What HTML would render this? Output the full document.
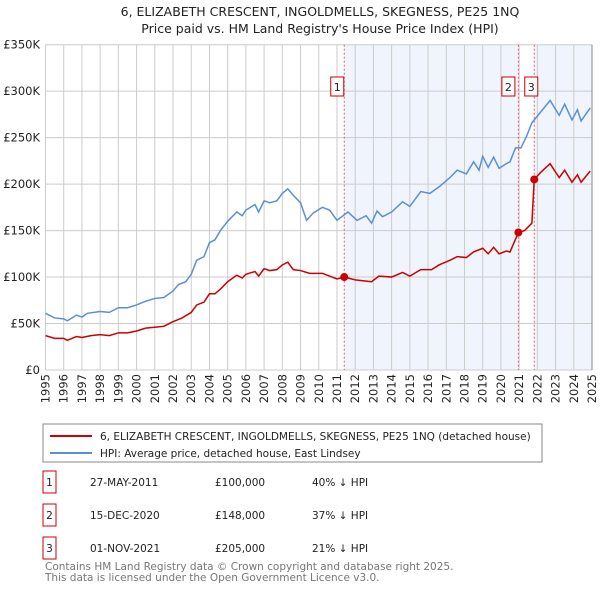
<!DOCTYPE html>
<html><head><meta charset="utf-8"><style>
body{margin:0;background:#fff;font-family:"DejaVu Sans","Liberation Sans",sans-serif;}
#wrap{position:relative;width:600px;height:590px;overflow:hidden}
</style></head><body><div id="wrap">
<svg id="chart" width="600" height="590" xmlns="http://www.w3.org/2000/svg" font-family="DejaVu Sans, Liberation Sans, sans-serif">
<text x="320" y="16" text-anchor="middle" font-size="12.5" fill="#222">6, ELIZABETH CRESCENT, INGOLDMELLS, SKEGNESS, PE25 1NQ</text>
<text x="320" y="33" text-anchor="middle" font-size="12.5" fill="#222">Price paid vs. HM Land Registry's House Price Index (HPI)</text>
<g id="plot"></g>
<rect x="43" y="424" width="499" height="38" fill="#fff" stroke="#888"/>
<line x1="50" y1="436" x2="92" y2="436" stroke="#cc0000" stroke-width="2"/>
<text x="100" y="440" font-size="10.5" fill="#222">6, ELIZABETH CRESCENT, INGOLDMELLS, SKEGNESS, PE25 1NQ (detached house)</text>
<line x1="50" y1="453" x2="92" y2="453" stroke="#5b8fd6" stroke-width="2"/>
<text x="100" y="457" font-size="10.5" fill="#222">HPI: Average price, detached house, East Lindsey</text>
<g id="table" font-size="10.5" fill="#222"></g>
<text x="45" y="570" font-size="10.5" fill="#777">Contains HM Land Registry data © Crown copyright and database right 2025.</text>
<text x="45" y="581" font-size="10.5" fill="#777">This data is licensed under the Open Government Licence v3.0.</text>
</svg></div>
<script>
const hpiYears=[1995,1995.5,1996,1996.2,1996.7,1997,1997.3,1998,1998.5,1999,1999.5,2000,2000.5,2001,2001.5,2002,2002.3,2002.7,2003,2003.3,2003.7,2004,2004.3,2004.6,2005,2005.5,2005.8,2006,2006.5,2006.7,2007,2007.3,2007.7,2008,2008.3,2008.6,2009,2009.33,2009.7,2010.2,2010.6,2011,2011.6,2012.1,2012.6,2012.9,2013.2,2013.5,2014,2014.6,2015,2015.6,2016.1,2016.6,2017.2,2017.6,2018.1,2018.5,2018.8,2019,2019.3,2019.6,2019.9,2020.3,2020.5,2020.8,2021.1,2021.4,2021.7,2022.2,2022.7,2023.2,2023.5,2023.9,2024.2,2024.4,2024.9];
const hpiValues=[61,56,55,53,59,57,61,63,62,67,67,70,74,77,78,85,92,95,103,118,122,137,140,150,160,170,166,172,178,170,182,180,182,190,195,188,180,161,169,175,172,161,170,161,166,158,171,165,170,181,176,192,190,197,207,215,211,224,215,230,218,229,217,222,224,239,239,251,266,278,290,274,286,269,280,268,282];
const ppYears=[1995,1995.5,1996,1996.2,1996.7,1997,1997.5,1998,1998.5,1999,1999.5,2000,2000.5,2001,2001.5,2002,2002.5,2003,2003.3,2003.7,2004,2004.3,2004.6,2005,2005.5,2005.8,2006,2006.5,2006.7,2007,2007.3,2007.7,2008,2008.3,2008.6,2009,2009.5,2010.2,2011,2011.4,2012,2012.9,2013.3,2014,2014.6,2015,2015.6,2016.2,2016.6,2017.2,2017.6,2018.1,2018.5,2019,2019.3,2019.6,2019.9,2020.3,2020.5,2020.96,2021.3,2021.7,2021.83,2022.2,2022.7,2023.2,2023.5,2023.9,2024.2,2024.4,2024.9];
const ppValues=[37,34,34,32,36,35,37,38,37,40,40,42,45,46,47,52,56,62,70,73,82,82,87,95,102,99,103,106,101,109,107,108,113,116,108,107,104,104,98,100,97,95,101,100,105,101,108,108,113,118,122,121,127,131,125,132,125,128,127,148,150,158,205,213,222,207,215,202,210,202,214];
const saleLabels=["1","2","3"];
const saleYears=[2011.4,2020.96,2021.83];
const saleValues=[100,148,205];
const saleDates=["27-MAY-2011","15-DEC-2020","01-NOV-2021"];
const salePrices=["£100,000","£148,000","£205,000"];
const saleDiffs=["40% ↓ HPI","37% ↓ HPI","21% ↓ HPI"];
const yTicks=[0,50,100,150,200,250,300,350];
const yTickLabels=["£0","£50K","£100K","£150K","£200K","£250K","£300K","£350K"];
const xTicks=[1995,1996,1997,1998,1999,2000,2001,2002,2003,2004,2005,2006,2007,2008,2009,2010,2011,2012,2013,2014,2015,2016,2017,2018,2019,2020,2021,2022,2023,2024,2025];

const X0=45.5,X1=592,Y0=370,Y1=44.7;
const xs=y=>X0+(y-1995)/30*(X1-X0);
const ys=v=>Y0-v/350*(Y0-Y1);
const NS="http://www.w3.org/2000/svg";
const plot=document.getElementById('plot');
function mk(tag,attrs,parent){const e=document.createElementNS(NS,tag);for(const k in attrs)e.setAttribute(k,attrs[k]);(parent||plot).appendChild(e);return e;}
let s=mk('rect',{x:xs(saleYears[0]),y:Y1,width:xs(saleYears[1])-xs(saleYears[0]),height:Y0-Y1,fill:'#f0f4fc'});


s=mk('rect',{x:xs(saleYears[2]),y:Y1,width:X1-xs(saleYears[2]),height:Y0-Y1,fill:'#f0f4fc'});


yTicks.forEach((t,i)=>{
 const l=mk('line',{x1:X0,x2:X1,y1:ys(t),y2:ys(t),stroke:'#ccc'});
 
 
 const tx=mk('text',{x:40,y:ys(t)+4,'text-anchor':'end','font-size':'11.5',fill:'#222'});
 tx.textContent=yTickLabels[i];
 
 
});
xTicks.forEach(t=>{
 const l=mk('line',{x1:xs(t),x2:xs(t),y1:Y1,y2:Y0,stroke:'#ccc'});
 
 
 const tx=mk('text',{x:0,y:0,'text-anchor':'end','font-size':'11.5',fill:'#222',transform:`translate(${xs(t)+4},374) rotate(-90)`});
 tx.textContent=t;
 
 
});
saleYears.forEach((y,i)=>{
 const l=mk('line',{x1:xs(y),x2:xs(y),y1:Y1,y2:Y0,stroke:'#e06060','stroke-dasharray':'2,2'});
 
 
 const bx=i===0?xs(y)-7:(i===1?xs(y)-10:xs(y)-3);
 const r=mk('rect',{x:bx-6.5,y:77,width:13,height:19,fill:'#fff',stroke:'#cc0000'});
 
 
 const tx=mk('text',{x:bx,y:91,'text-anchor':'middle','font-size':'11',fill:'#222'});
 tx.textContent=saleLabels[i];
 
 
});
let p=mk('polyline',{points:hpiYears.map((y,i)=>xs(y)+','+ys(hpiValues[i])).join(' '),fill:'none',stroke:'#5b8fd6','stroke-width':1.5});


p=mk('polyline',{points:ppYears.map((y,i)=>xs(y)+','+ys(ppValues[i])).join(' '),fill:'none',stroke:'#cc0000','stroke-width':1.5});


saleYears.forEach((y,i)=>{
 const c=mk('circle',{cx:xs(y),cy:ys(saleValues[i]),r:4,fill:'#cc0000'});
 
 
});
let ax=mk('line',{x1:X1,x2:X1,y1:Y1,y2:Y0,stroke:'#888'});


const tb=document.getElementById('table');
saleLabels.forEach((lab,i)=>{
 const cy=482+i*33;
 const r=mk('rect',{x:43,y:cy-11,width:13,height:22,fill:'#fff',stroke:'#cc0000'},tb);
 
 
 const vals=[lab,saleDates[i],salePrices[i],saleDiffs[i]];
 const xsT=[49.5,90,215,312];
 vals.forEach((v,j)=>{
  const t=mk('text',{x:xsT[j],y:cy+4,'text-anchor':j===0?'middle':'start'},tb);
  t.textContent=v;
  
  
 });
});
</script></body></html>
